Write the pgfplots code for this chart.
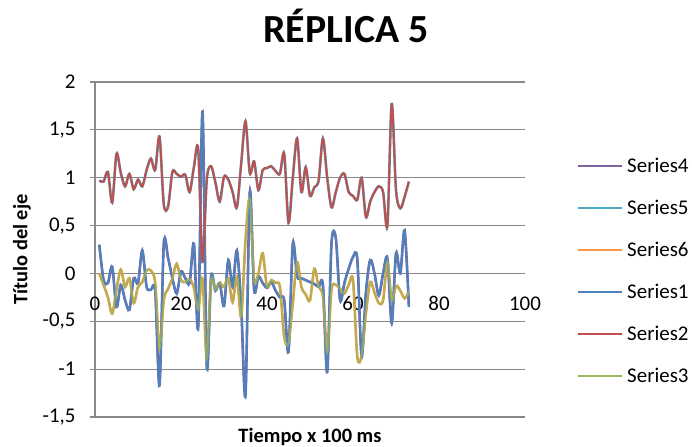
\documentclass[border=0pt]{standalone}
\usepackage{fontspec}
\setmainfont{Carlito}
\usepackage{pgfplots}
\usepackage{pgfplotstable}
\pgfplotsset{compat=1.18}
\definecolor{sA}{HTML}{4F81BD}
\definecolor{sB}{HTML}{C0504D}
\definecolor{sC}{HTML}{9BBB59}
\definecolor{sD}{HTML}{8064A2}
\definecolor{sE}{HTML}{4BACC6}
\definecolor{sF}{HTML}{F79646}
\definecolor{gridgray}{HTML}{898989}
\pgfplotstableread{
x s1 s2 s3
1 0.30 0.97 0.00
2 -0.07 0.96 -0.12
3 -0.10 1.06 -0.25
4 0.07 0.74 -0.42
5 -0.35 1.25 -0.17
6 -0.12 1.05 0.04
7 -0.28 0.91 -0.14
8 -0.38 1.04 -0.05
9 -0.05 0.88 -0.31
10 -0.10 0.98 -0.14
11 0.24 0.91 -0.09
12 -0.14 1.08 0.03
13 -0.17 1.20 0.03
14 -0.18 1.08 -0.10
15 -1.17 1.43 -0.79
16 0.31 0.72 -0.28
17 0.16 0.70 -0.16
18 -0.05 1.06 -0.05
19 -0.21 1.04 0.10
20 0.02 1.01 -0.07
21 -0.05 1.03 -0.09
22 -0.10 0.85 -0.06
23 0.31 1.11 -0.15
24 -0.56 1.30 -0.38
25 1.69 0.12 -0.06
26 -0.97 0.98 -0.89
27 -0.03 1.12 -0.07
28 -0.18 0.95 -0.17
29 -0.10 0.75 -0.10
30 -0.34 1.01 -0.14
31 0.14 0.98 -0.05
32 -0.14 0.85 -0.30
33 0.24 0.69 -0.03
34 -0.35 1.15 -0.45
35 -1.27 1.59 0.35
36 0.85 1.05 0.78
37 -0.17 1.17 -0.07
38 -0.03 0.87 0.00
39 -0.10 1.08 0.21
40 -0.15 1.10 -0.14
41 -0.09 1.12 -0.07
42 -0.18 1.07 -0.10
43 -0.25 1.04 -0.14
44 -0.28 1.25 -0.66
45 -0.82 0.53 -0.73
46 0.31 1.00 -0.31
47 -0.03 1.41 0.12
48 -0.05 0.85 -0.14
49 -0.07 1.11 -0.22
50 -0.09 0.81 -0.28
51 -0.11 0.90 0.05
52 -0.14 0.97 -0.14
53 -0.12 1.41 -0.24
54 -1.03 1.00 -0.83
55 0.31 0.69 -0.17
56 0.37 0.85 -0.12
57 -0.28 1.00 -0.16
58 -0.10 1.04 -0.21
59 0.05 0.85 -0.12
60 0.17 0.81 -0.07
61 0.15 0.77 -0.87
62 -0.87 1.00 -0.86
63 -0.20 0.59 -0.42
64 0.14 0.75 -0.09
65 0.00 0.85 -0.20
66 -0.23 0.91 -0.31
67 0.00 0.85 -0.28
68 0.16 0.50 0.12
69 -0.52 1.77 -0.28
70 0.21 0.87 -0.13
71 0.00 0.68 -0.18
72 0.45 0.80 -0.26
73 -0.35 0.96 -0.19
}\datatable
\begin{document}
\begin{tikzpicture}
\useasboundingbox (0,0) rectangle (692bp,447bp);
\begin{axis}[
  at={(95bp,30bp)}, anchor=south west,
  scale only axis, width=430bp, height=335bp,
  xmin=0, xmax=100, ymin=-1.5, ymax=2,
  xtick={0,20,40,60,80,100},
  ytick={-1.5,-1,-0.5,0,0.5,1,1.5,2},
  yticklabels={{-1,5},{-1},{-0,5},{0},{0,5},{1},{1,5},{2}},
  axis x line*=bottom, axis y line*=left,
  x axis line style={draw=none},
  y axis line style={draw=gridgray, line width=1.2bp},
  ymajorgrids, grid style={draw=gridgray, line width=1.2bp},
  xtick style={draw=none},
  ytick style={draw=gridgray, line width=1.2bp},
  tick align=outside, major tick length=5bp,
  tick label style={font=\fontsize{21}{25}\selectfont},
  /pgf/number format/assume math mode=true,
  xticklabel style={yshift=129bp},
  yticklabel style={xshift=-11bp},
  title={RÉPLICA 5},
  title style={font=\bfseries\fontsize{40}{48}\selectfont, at={(axis description cs:0.5837,1.1015)}, anchor=base},
  xlabel={Tiempo x 100 ms},
  xlabel style={font=\bfseries\fontsize{20.5}{24}\selectfont, at={(axis description cs:0.5,-0.0597)}, anchor=center},
  ylabel={Título del eje},
  ylabel style={font=\bfseries\fontsize{20.5}{24}\selectfont, at={(axis description cs:-0.170,0.5)}, anchor=center},
  legend cell align=left,
  legend image code/.code={\draw[#1, line width=2bp, opacity=1] (0bp,0bp) -- (44bp,0bp);},
  legend style={draw=none, fill=none, at={(axis description cs:1.121,0.436)}, anchor=west,
    font=\fontsize{21}{25}\selectfont, row sep=26bp, inner sep=0pt,
    nodes={inner sep=0pt},
    /tikz/every odd column/.append style={column sep=4bp}},
]
\addplot[sD, line width=2.6bp, smooth] table[x=x,y=s1]{\datatable};
\addlegendentry{Series4}
\addplot[sE, line width=2.6bp, smooth] table[x=x,y=s2]{\datatable};
\addlegendentry{Series5}
\addplot[sF, line width=2.6bp, smooth] table[x=x,y=s3]{\datatable};
\addlegendentry{Series6}
\addplot[sA, line width=2bp, smooth] table[x=x,y=s1]{\datatable};
\addlegendentry{Series1}
\addplot[sB, line width=2bp, smooth] table[x=x,y=s2]{\datatable};
\addlegendentry{Series2}
\addplot[sC, line width=2bp, smooth, opacity=0.7] table[x=x,y=s3]{\datatable};
\addlegendentry{Series3}
\end{axis}
\end{tikzpicture}
\end{document}
